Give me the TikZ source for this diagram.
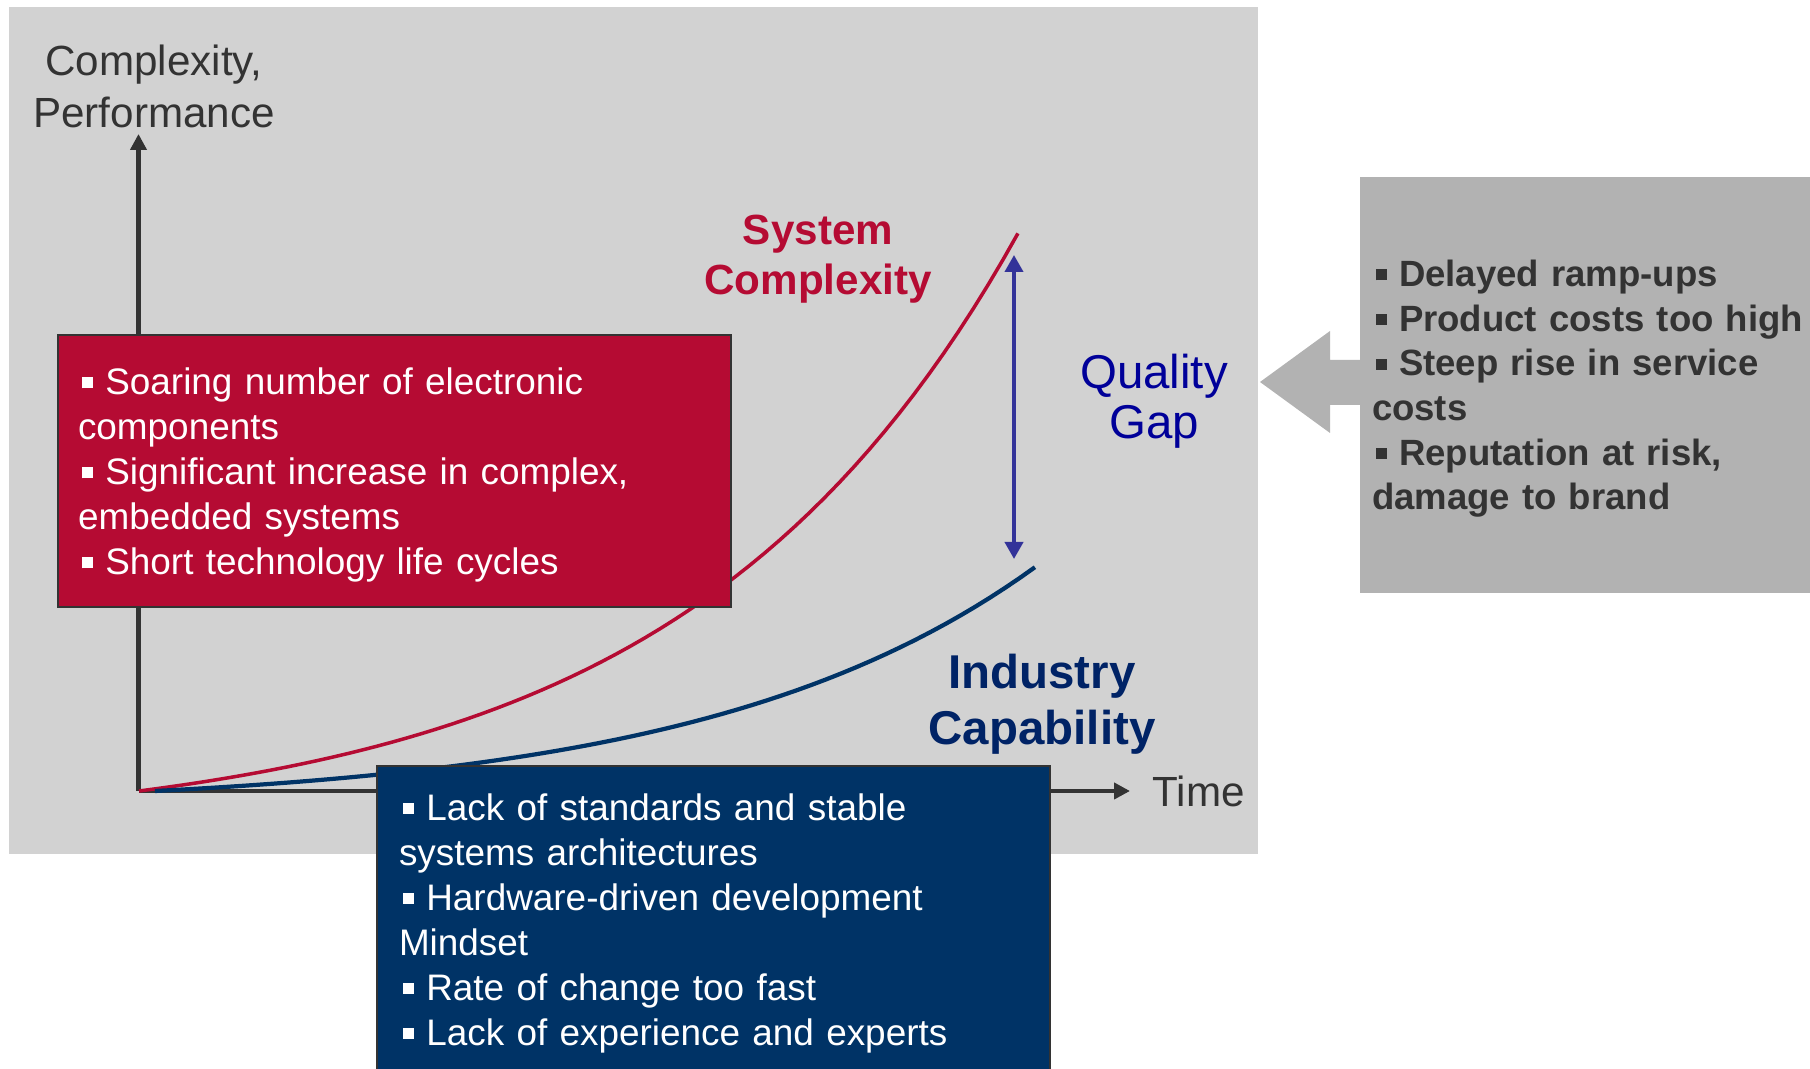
\documentclass[tikz,border=0pt]{standalone}
\usepackage{fontspec}
\setmainfont{Liberation Sans}
\usetikzlibrary{arrows.meta,positioning}
\definecolor{slidegray}{RGB}{210,210,210}
\definecolor{boxgray}{RGB}{178,178,178}
\definecolor{crimson}{RGB}{181,11,51}
\definecolor{navy}{RGB}{0,51,102}
\definecolor{capblue}{RGB}{0,35,102}
\definecolor{gapblue}{RGB}{51,51,153}
\definecolor{qualblue}{RGB}{0,0,153}
\definecolor{axisgray}{RGB}{51,51,51}
\newcommand{\sqb}{\hspace*{0.1em}\rule[0.17em]{0.3em}{0.3em}\hspace{0.34em}}

\begin{document}
\begin{tikzpicture}[
    axisline/.style={draw=axisgray, line width=1.2pt, -{Triangle[width=0.16cm,length=0.16cm]}},
    infobox/.style={draw=axisgray, line width=0.6pt, text=white, align=left,
      inner xsep=0.2cm, inner ysep=0pt, font=\fontsize{10.5}{12.8}\selectfont},
    biglabel/.style={align=center, inner sep=0pt}
  ]
  \useasboundingbox (0,0) rectangle (18.10,10.68);
  % slide background
    \fill[slidegray] (0.09,2.14) rectangle (12.58,10.61);
  % axes
    \coordinate (origin) at (1.385,2.77);
    \coordinate (ytip) at (1.385,9.34);
    \coordinate (xtip) at (11.30,2.77);
    \draw[axisline] (origin) -- (ytip);
    \draw[axisline] (origin) -- (xtip);
    \node[biglabel, anchor=north, text=axisgray, font=\fontsize{12}{14.8}\selectfont]
      (ylabel) at (1.54,10.24) {Complexity,\\Performance};
    \node[inner sep=0pt, text=axisgray, font=\fontsize{12}{14.8}\selectfont,
      right=0.22cm of xtip] (xlabel) {Time};
  % curves
    \draw[crimson, line width=1pt] plot[domain=0:8.79, samples=60]
      ({1.39+\x}, {2.77+0.43*(exp(0.3*\x)-1)});
    \draw[navy, line width=1.2pt] plot[domain=0:8.80, samples=60]
      ({1.55+\x}, {2.77+0.172*(exp(0.3*\x)-1)});
  % quality gap
    \coordinate (gaptop) at (10.14,8.13);
    \coordinate (gapbot) at (10.14,5.09);
    \draw[gapblue, line width=1.1pt,
      {Triangle[width=0.18cm,length=0.17cm]}-{Triangle[width=0.18cm,length=0.17cm]}]
      (gaptop) -- (gapbot);
  % labels
    \node[biglabel, text=crimson, font=\bfseries\fontsize{12}{14.2}\selectfont]
      (syslabel) at (8.18,8.09) {System\\Complexity};
    \node[biglabel, text=qualblue, font=\fontsize{13.5}{14.2}\selectfont]
      (gaplabel) at (11.54,6.665) {Quality\\Gap};
    \node[biglabel, text=capblue, font=\bfseries\fontsize{13.5}{15.9}\selectfont]
      (caplabel) at (10.42,3.635) {Industry\\Capability};
  % red box
    \node[infobox, fill=crimson, minimum width=6.73cm, minimum height=2.72cm,
      text width=6.33cm] (redbox) at (3.945,5.97)
      {\rule{0pt}{10pt}\sqb Soaring number of electronic\\components\\
       \sqb Significant increase in complex,\\embedded systems\\
       \sqb Short technology life cycles};
  % blue box
    \node[infobox, fill=navy, minimum width=6.73cm, minimum height=3.14cm,
      inner xsep=0.22cm, text width=6.29cm] (bluebox) at (7.135,1.45)
      {\sqb Lack of standards and stable\\systems architectures\\
       \sqb Hardware-driven development\\Mindset\\
       \sqb Rate of change too fast\\
       \sqb Lack of experience and experts};
  % arrow and consequences
    \fill[boxgray] (12.60,6.86) -- (13.30,7.37) -- (13.30,7.08) -- (13.60,7.08)
      -- (13.60,6.63) -- (13.30,6.63) -- (13.30,6.35) -- cycle;
    \node[fill=boxgray, text=axisgray, align=left, inner xsep=0.12cm, inner ysep=0pt,
      minimum width=4.70cm, minimum height=4.16cm, text width=4.46cm,
      font=\bfseries\fontsize{10.4}{12.7}\selectfont] (graybox) at (15.95,6.83)
      {\rule{0pt}{9.7pt}\sqb Delayed ramp-ups\\
       \sqb Product costs too high\\
       \sqb Steep rise in service\\costs\\
       \sqb Reputation at risk,\\damage to brand};
\end{tikzpicture}
\end{document}
